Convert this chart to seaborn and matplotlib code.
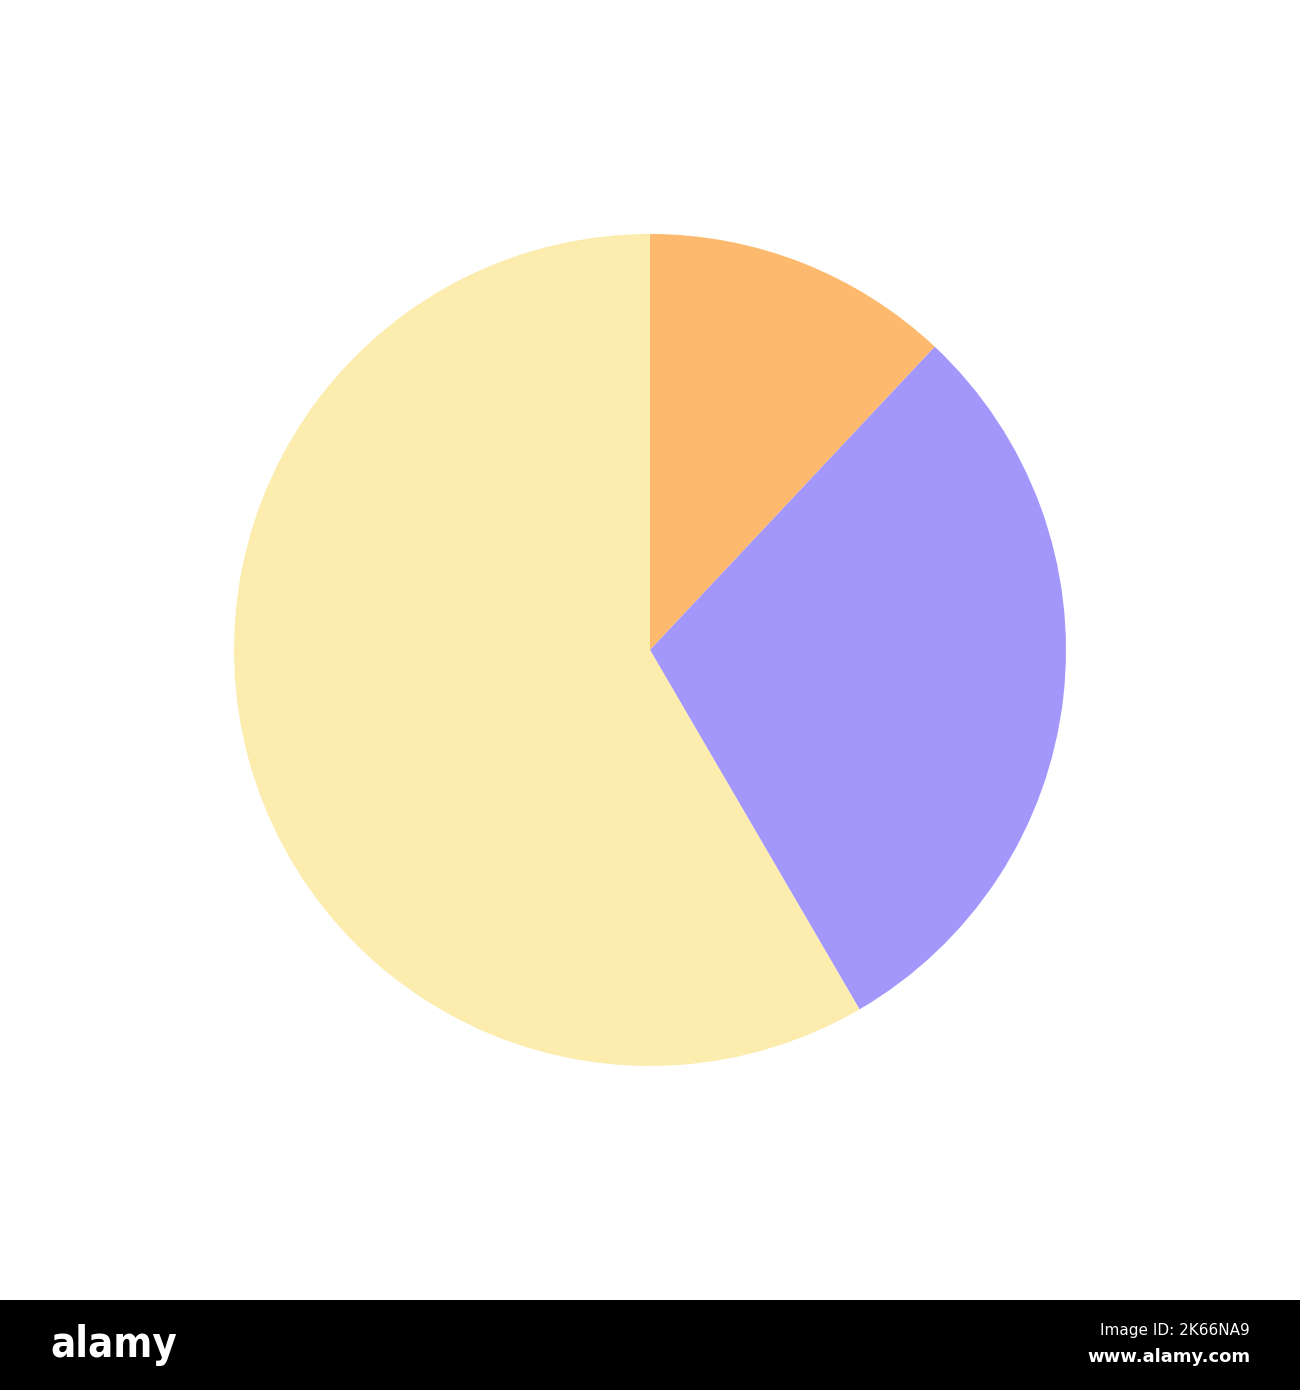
import matplotlib
matplotlib.use("Agg")
import matplotlib.pyplot as plt
import seaborn as sns

sns.set_style("white")
plt.rcParams['font.family'] = ['DejaVu Sans']

# Data
categories = ["A", "B", "C"]
values = [12, 29.6, 58.4]
colors = ["#FDBA6E", "#A397FB", "#FCECAE"]

fig = plt.figure(figsize=(13, 13.9), dpi=100)
fig.patch.set_facecolor("white")

ax = fig.add_axes([0.18, 0.2331, 0.64, 0.5986])
ax.pie(values, colors=colors, startangle=90, counterclock=False,
       radius=1.0, wedgeprops=dict(linewidth=0, edgecolor="none"))
ax.set_xlim(-1, 1)
ax.set_ylim(-1, 1)
ax.set_aspect("equal")
ax.axis("off")

# bottom watermark band
bx = fig.add_axes([0, 0, 1, 90 / 1390])
bx.set_facecolor("black")
bx.set_xlim(0, 1300)
bx.set_ylim(90, 0)
bx.set_xticks([]); bx.set_yticks([])
for s in bx.spines.values():
    s.set_visible(False)
bx.text(50, 45, "alamy", color="white", fontsize=30, fontweight="bold",
        fontstretch="condensed", va="center", ha="left", family="Liberation Sans Narrow")
bx.text(1250, 31, "Image ID: 2K66NA9", color="white", fontsize=11,
        va="center", ha="right", family="Liberation Sans Narrow")
bx.text(1250, 57, "www.alamy.com", color="white", fontsize=13, fontweight="bold",
        va="center", ha="right", family="Liberation Sans Narrow")

fig.savefig("out.png", dpi=100, facecolor="white")
